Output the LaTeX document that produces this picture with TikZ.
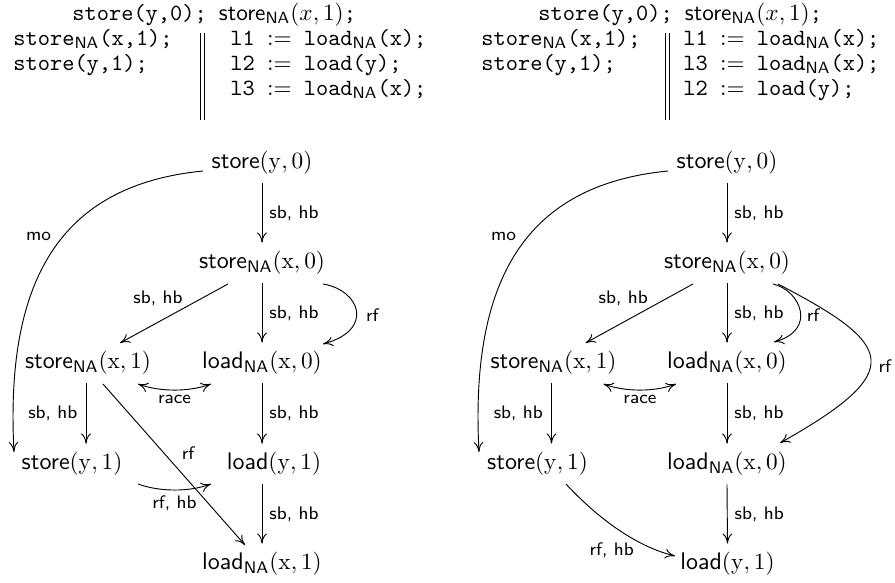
\documentclass[tikz,border=0pt]{standalone}
\usepackage{amsmath}
\usetikzlibrary{calc,arrows.meta}
\newcommand{\nasub}{$_{\text{\normalfont\sffamily NA}}$}
\newcommand{\stNA}{\textsf{store}\nasub}
\newcommand{\ldNA}{\textsf{load}\nasub}
\newcommand{\asg}[1]{#1 $:=$ }
\begin{document}
\begin{tikzpicture}[x=0.43pt,y=-0.43pt,
  >={To[length=4.3pt,width=4.2pt]},
  ev/.style={inner sep=0pt, minimum height=17.2pt, font=\fontsize{10.3}{12}\selectfont},
  arr/.style={->},
  lab/.style={font=\sffamily\fontsize{7.8}{9}\selectfont, inner sep=1pt},
  code/.style={anchor=base west, inner sep=0pt, font=\ttfamily}]
\useasboundingbox (0,0) rectangle (895,583);

% ---------------- left panel: program ----------------
\node[code] (lt1) at (72,20) {store(y,0); \textsf{store}\nasub$(x,1)$;};
\node[code] (lt2) at (13,45) {store\nasub(x,1);};
\node[code] (lt3) at (13,70) {store(y,1);};
\node[code] (lt4) at (230,45) {\asg{l1}load\nasub(x);};
\node[code] (lt5) at (230,70) {\asg{l2}load(y);};
\node[code] (lt6) at (230,95) {\asg{l3}load\nasub(x);};
\draw (200,33) -- (200,120);
\draw (204,33) -- (204,120);

% ---------------- left panel: graph ----------------
\node[ev] (a0) at (262,163) {\textsf{store}$(\mathrm{y},0)$};
\node[ev] (a1) at (262,263) {\stNA$(\mathrm{x},0)$};
\node[ev] (a2) at (88,363) {\stNA$(\mathrm{x},1)$};
\node[ev] (a3) at (262,363) {\ldNA$(\mathrm{x},0)$};
\node[ev] (a4) at (72,464) {\textsf{store}$(\mathrm{y},1)$};
\node[ev] (a5) at (274,464) {\textsf{load}$(\mathrm{y},1)$};
\node[ev] (a6) at (262,564) {\ldNA$(\mathrm{x},1)$};

\draw[arr] (a0.south) -- node[lab,right=2pt] {sb, hb} (a1.north);
\draw[arr] ($(a1)+(-34,21)$) -- node[lab,midway,shift={(-16,-15)}] {sb, hb} ($(a2)+(32,-20)$);
\draw[arr] (a1.south) -- node[lab,right=2pt] {sb, hb} (a3.north);
\draw[arr] ($(a1)+(61,21)$) .. controls (360,290) and (375,330) .. node[lab,pos=.5,shift={(16,4)}] {rf} ($(a3)+(61,-19)$);
\draw[arr] ($(a0)+(-59,8)$) .. controls (60,185) and (5,280) .. node[lab,pos=.5,shift={(-13,-16)}] {mo} ($(a4)+(-58,-12)$);
\coordinate (c1) at ($(a2.south)+(-2,0)$);
\draw[arr] (c1) -- node[lab,left=2.5pt] {sb, hb} (c1 |- a4.north);
\draw[<->] ($(a2)+(50,21)$) .. controls (160,392) and (189,392) .. node[lab,pos=.5,shift={(0,9)}] {race} ($(a3)+(-51,21)$);
\draw[arr] (a3.south) -- node[lab,right=2pt] {sb, hb} (a3.south |- a5.north);
\draw[arr] ($(a2)+(15,21)$) -- node[lab,pos=.43,shift={(24,0)}] {rf} ($(a6)+(-17,-19)$);
\draw[arr] ($(a4)+(66,20)$) .. controls (160,492) and (189,492) .. node[lab,pos=.5,shift={(0,13)}] {rf, hb} ($(a5)+(-63,20)$);
\draw[arr] (a5.south -| a6) -- node[lab,right=2pt] {sb, hb} (a6.north);

% ---------------- right panel: program ----------------
\node[code] (rt1) at (538,20) {store(y,0); \textsf{store}\nasub$(x,1)$;};
\node[code] (rt2) at (481,45) {store\nasub(x,1);};
\node[code] (rt3) at (481,70) {store(y,1);};
\node[code] (rt4) at (683,45) {\asg{l1}load\nasub(x);};
\node[code] (rt5) at (683,70) {\asg{l3}load\nasub(x);};
\node[code] (rt6) at (683,95) {\asg{l2}load(y);};
\draw (665,33) -- (665,120);
\draw (669,33) -- (669,120);

% ---------------- right panel: graph ----------------
\node[ev] (b0) at (727,163) {\textsf{store}$(\mathrm{y},0)$};
\node[ev] (b1) at (727,263) {\stNA$(\mathrm{x},0)$};
\node[ev] (b2) at (553.5,363) {\stNA$(\mathrm{x},1)$};
\node[ev] (b3) at (727,363) {\ldNA$(\mathrm{x},0)$};
\node[ev] (b4) at (537.5,464) {\textsf{store}$(\mathrm{y},1)$};
\node[ev] (b5) at (727,464) {\ldNA$(\mathrm{x},0)$};
\node[ev] (b6) at (727.5,564) {\textsf{load}$(\mathrm{y},1)$};

\draw[arr] (b0.south) -- node[lab,right=2pt] {sb, hb} (b1.north);
\draw[arr] ($(b0)+(-59,8)$) .. controls (525,185) and (470,280) .. node[lab,pos=.5,shift={(-13,-16)}] {mo} ($(b4)+(-58.5,-12)$);
\draw[arr] ($(b1)+(-34,21)$) -- node[lab,midway,shift={(-16,-15)}] {sb, hb} ($(b2)+(32,-20)$);
\draw[arr] (b1.south) -- node[lab,right=2pt] {sb, hb} (b3.north);
\draw[arr] ($(b1)+(46,21)$) .. controls (800,290) and (818,330) .. node[lab,pos=.5,shift={(13,4)}] {rf} ($(b3)+(47,-21)$);
\draw[arr] ($(b1)+(51,21)$) .. controls (895,345) and (908,371) .. node[lab,pos=.5,shift={(14,7)}] {rf} ($(b5)+(53,-21)$);
\draw[<->] ($(b2)+(50,21)$) .. controls (625.5,392) and (654.5,392) .. node[lab,pos=.5,shift={(0,9)}] {race} ($(b3)+(-51,21)$);
\coordinate (c2) at ($(b2.south)+(-2,0)$);
\draw[arr] (c2) -- node[lab,left=2.5pt] {sb, hb} (c2 |- b4.north);
\draw[arr] (b3.south) -- node[lab,right=2pt] {sb, hb} (b5.north);
\draw[arr] ($(b4)+(28.5,20)$) .. controls (590,510) and (630,545) .. node[lab,pos=.5,shift={(-1,25)}] {rf, hb} ($(b6)+(-52.5,-8)$);
\draw[arr] (b5.south) -- node[lab,right=2pt] {sb, hb} (b6.north);
\end{tikzpicture}
\end{document}
